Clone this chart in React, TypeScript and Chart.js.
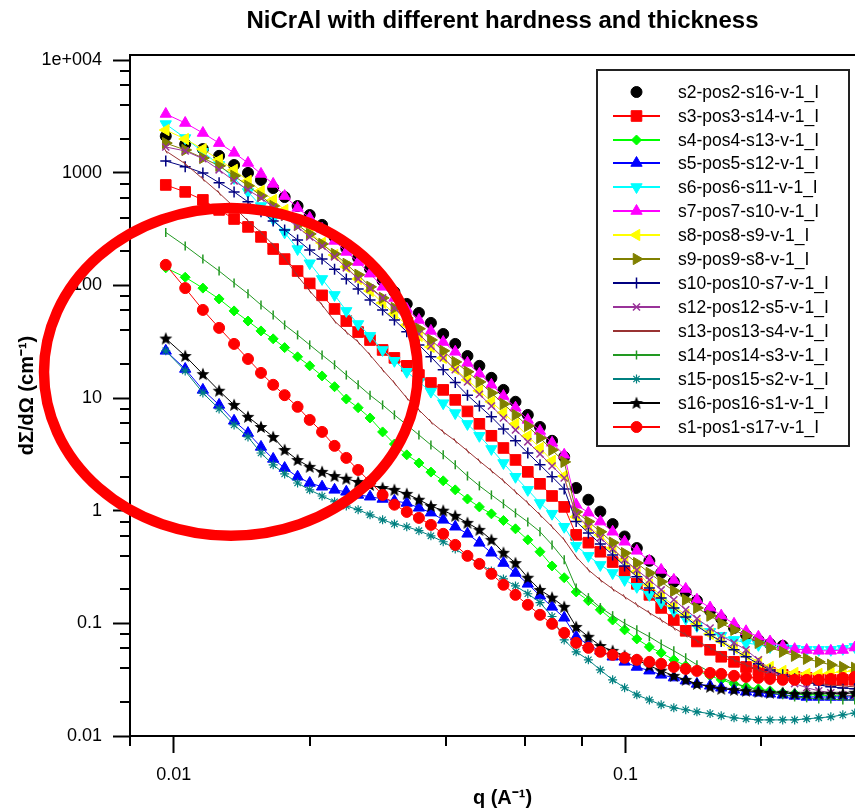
import React, { useEffect, useRef } from 'react';
import { Chart, registerables, PointElement } from 'chart.js';

Chart.register(...registerables);

const chartTitle = 'NiCrAl with different hardness and thickness';
const xTitle = 'q (A\u207B\u00B9)';
const yTitle = 'd\u03A3/d\u03A9 (cm\u207B\u00B9)';

const xMajorTicks = [0.01, 0.1];
const xMajorLabels = ['0.01', '0.1'];
const xMinorTicks = [0.008, 0.02, 0.04, 0.06, 0.08, 0.2];
const yMajorTicks = [0.01, 0.1, 1, 10, 100, 1000, 10000];
const yMajorLabels = ['0.01', '0.1', '1', '10', '100', '1000', '1e+004'];
const yMinorTicks = [0.02, 0.04, 0.06, 0.08, 0.2, 0.4, 0.6, 0.8, 2, 4, 6, 8, 20, 40, 60, 80, 200, 400, 600, 800, 2000, 4000, 6000, 8000];

const xRange = [0.008, 0.357];
const yRange = [0.01, 11077];

// highlighted region (red ellipse), in data units
const highlight = { qMin: 0.00516, qMax: 0.0347, iMin: 0.598, iMax: 486 };

const q = [0.0096, 0.0106, 0.0116, 0.0126, 0.0136, 0.0146, 0.0156, 0.0166, 0.0176, 0.0188, 0.02, 0.0213, 0.0227, 0.0241, 0.0256, 0.0272, 0.029, 0.0308, 0.0328, 0.0349, 0.0371, 0.0395, 0.042, 0.0447, 0.0475, 0.0505, 0.0537, 0.0571, 0.0608, 0.0647, 0.0688, 0.0732, 0.0778, 0.0828, 0.088, 0.0937, 0.0996, 0.106, 0.113, 0.12, 0.128, 0.136, 0.144, 0.154, 0.163, 0.174, 0.185, 0.197, 0.209, 0.223, 0.237, 0.252, 0.268, 0.285, 0.303, 0.322, 0.343];

const s2 = [2110, 1790, 1620, 1410, 1170, 995, 862, 730, 608, 506, 421, 344, 268, 213, 175, 140, 110, 87.3, 68.4, 56.9, 46.4, 37.0, 30.2, 23.6, 19.3, 15.1, 11.8, 9.26, 7.08, 5.53, 4.17, 3.0, 1.59, 1.25, 0.98, 0.76, 0.59, 0.466, 0.359, 0.28, 0.234, 0.19, 0.159, 0.129, 0.11, 0.091, 0.079, 0.0713, 0.0656, 0.0632];
const s3 = [778, 675, 573, 467, 388, 330, 269, 210, 171, 134, 104, 81.5, 61.7, 48.2, 38.5, 32.7, 26.7, 22.7, 19.3, 16.0, 13.6, 11.8, 9.62, 7.6, 5.9, 4.62, 3.6, 2.82, 2.21, 1.73, 1.35, 1.08, 0.61, 0.52, 0.432, 0.35, 0.287, 0.224, 0.179, 0.137, 0.107, 0.0858, 0.069, 0.0582, 0.0505, 0.0455, 0.041, 0.0386, 0.0363, 0.0349, 0.0335, 0.0328, 0.0321, 0.0315, 0.0315, 0.0315, 0.0315];
const s4 = [143, 118, 94.5, 75.7, 59.3, 48.2, 39.4, 33.5, 28.0, 23.2, 19.3, 15.7, 12.6, 9.8, 8.2, 6.65, 5.0, 3.9, 3.13, 2.65, 2.2, 1.84, 1.53, 1.27, 1.08, 0.937, 0.818, 0.69, 0.551, 0.432, 0.323, 0.254, 0.19, 0.159, 0.132, 0.107, 0.0875, 0.0727, 0.0618, 0.0547, 0.0474, 0.042, 0.038, 0.0342, 0.0315, 0.029, 0.0273, 0.0262, 0.0252, 0.0242, 0.0237, 0.0232, 0.0232, 0.0227, 0.0227, 0.0227, 0.0232];
const s5 = [26.2, 18.1, 11.8, 8.68, 6.27, 4.88, 3.68, 2.88, 2.39, 2.0, 1.76, 1.63, 1.53, 1.47, 1.38, 1.33, 1.27, 1.22, 1.17, 1.06, 0.96, 0.829, 0.72, 0.623, 0.518, 0.423, 0.343, 0.28, 0.224, 0.176, 0.14, 0.112, 0.076, 0.0644, 0.057, 0.0505, 0.0455, 0.041, 0.038, 0.0349, 0.033, 0.031, 0.029, 0.0279, 0.0268, 0.0257, 0.0247, 0.0242, 0.0237, 0.0232, 0.0227, 0.0222, 0.0222, 0.0222, 0.0222, 0.0222, 0.0222];
const s6 = [2700, 2030, 1530, 1170, 897, 675, 506, 388, 295, 210, 157, 114, 82.2, 59.3, 45.4, 35.6, 26.7, 21.4, 17.1, 13.9, 11.4, 9.0, 7.35, 5.89, 4.62, 3.53, 2.65, 2.0, 1.53, 1.17, 0.94, 0.72, 0.487, 0.397, 0.33, 0.28, 0.243, 0.211, 0.179, 0.153, 0.129, 0.11, 0.095, 0.0842, 0.0776, 0.0713, 0.0671, 0.0644, 0.0618, 0.0606, 0.0594, 0.0582, 0.0582, 0.0582, 0.0594, 0.0618, 0.0644];
const s7 = [3320, 2760, 2250, 1830, 1500, 1220, 975, 795, 620, 487, 397, 317, 248, 198, 161, 127, 97, 77.3, 61.7, 49.3, 39.4, 31.4, 25.7, 20.5, 16.4, 13.1, 10.4, 8.2, 6.39, 5.1, 4.0, 3.13, 1.13, 0.96, 0.8, 0.65, 0.53, 0.44, 0.36, 0.298, 0.243, 0.202, 0.162, 0.138, 0.117, 0.099, 0.085, 0.076, 0.069, 0.063, 0.059, 0.058, 0.057, 0.057, 0.058, 0.061, 0.063];
const s8 = [2390, 1990, 1620, 1300, 1060, 845, 690, 573, 467, 373, 298, 238, 186, 146, 114, 89.2, 69.8, 55.7, 44.5, 35.6, 28.4, 22.7, 18.1, 14.5, 11.6, 9.26, 7.4, 5.9, 4.6, 3.6, 2.77, 2.03, 0.88, 0.72, 0.61, 0.466, 0.366, 0.287, 0.22, 0.176, 0.143, 0.119, 0.099, 0.0806, 0.07, 0.0606, 0.0525, 0.0455, 0.041, 0.0378, 0.0363, 0.0356, 0.0356, 0.0363, 0.037, 0.0378, 0.0386];
const s9 = [1830, 1590, 1350, 1150, 937, 764, 622, 506, 421, 344, 286, 233, 190, 155, 124, 97, 77.3, 62.9, 51.3, 41.2, 32.8, 26.2, 20.9, 17.1, 13.9, 11.1, 8.85, 7.08, 5.65, 4.42, 3.46, 2.71, 0.975, 0.8, 0.65, 0.52, 0.42, 0.343, 0.28, 0.234, 0.194, 0.162, 0.137, 0.117, 0.1, 0.0875, 0.0776, 0.0671, 0.0606, 0.0559, 0.0515, 0.0484, 0.0455, 0.0428, 0.041, 0.0403, 0.0394];
const s10 = [1270, 1130, 995, 815, 675, 551, 449, 373, 310, 253, 206, 171, 139, 114, 92.8, 74.2, 60.5, 49.3, 38.8, 29.6, 23.2, 17.8, 13.7, 10.6, 8.5, 6.8, 5.3, 4.17, 3.25, 2.55, 2.0, 1.56, 0.8, 0.635, 0.507, 0.405, 0.323, 0.259, 0.206, 0.168, 0.137, 0.114, 0.095, 0.079, 0.069, 0.0582, 0.0505, 0.0437, 0.0386, 0.0349, 0.0322, 0.0303, 0.0284, 0.0273, 0.0267, 0.0262, 0.0257];
const s12 = [1690, 1560, 1330, 1060, 845, 703, 596, 496, 405, 330, 269, 223, 179, 143, 114, 94.5, 77.3, 62.9, 47.4, 37.0, 29.0, 22.7, 17.8, 13.9, 10.8, 8.5, 6.65, 5.21, 4.08, 3.19, 2.49, 1.95, 0.918, 0.72, 0.574, 0.458, 0.366, 0.298, 0.243, 0.198, 0.162, 0.132, 0.11, 0.091, 0.0776, 0.0671, 0.0582, 0.0474, 0.0386, 0.033, 0.0292, 0.0268, 0.0252, 0.0242, 0.0232, 0.0227, 0.0222];
const s13 = [1560, 1200, 880, 661, 496, 373, 295, 228, 175, 121, 89.2, 67, 48.2, 38.5, 31.4, 24.1, 17.8, 13.6, 10.0, 7.84, 6.14, 5.0, 4.17, 3.39, 2.76, 2.26, 1.84, 1.47, 1.17, 0.918, 0.72, 0.551, 0.389, 0.298, 0.243, 0.202, 0.172, 0.146, 0.124, 0.107, 0.091, 0.079, 0.07, 0.0606, 0.0536, 0.0474, 0.0428, 0.0386, 0.0356, 0.0335, 0.0315, 0.0303, 0.0292, 0.0284, 0.0278, 0.0273, 0.0267];
const s14 = [295, 224, 171, 134, 105, 84.3, 67, 54.6, 44.5, 36.3, 29.6, 24.1, 19.7, 16.0, 13.1, 10.6, 8.68, 7.08, 5.77, 4.7, 3.83, 3.13, 2.55, 2.03, 1.66, 1.38, 1.15, 0.955, 0.795, 0.65, 0.497, 0.366, 0.206, 0.169, 0.138, 0.117, 0.1, 0.0875, 0.076, 0.0656, 0.057, 0.0495, 0.0428, 0.037, 0.033, 0.0296, 0.0273, 0.0257, 0.0242, 0.0232, 0.0222, 0.0218, 0.0213, 0.0213, 0.0209, 0.0209, 0.0209];
const s15 = [26.2, 17.4, 11.1, 8.0, 5.77, 4.51, 3.25, 2.55, 2.12, 1.76, 1.53, 1.35, 1.2, 1.1, 1.02, 0.918, 0.829, 0.763, 0.72, 0.664, 0.598, 0.53, 0.458, 0.389, 0.337, 0.292, 0.248, 0.215, 0.183, 0.153, 0.115, 0.0713, 0.0559, 0.0474, 0.0386, 0.0315, 0.0268, 0.0232, 0.0209, 0.0189, 0.0178, 0.0171, 0.0164, 0.0158, 0.0151, 0.0145, 0.0142, 0.0139, 0.0139, 0.0139, 0.0139, 0.0142, 0.0145, 0.0148, 0.0154, 0.016, 0.0167];
const s16 = [33.7, 23.6, 16.3, 11.6, 8.68, 6.8, 5.53, 4.51, 3.46, 2.82, 2.45, 2.21, 2.03, 1.92, 1.8, 1.69, 1.59, 1.53, 1.41, 1.25, 1.1, 1.0, 0.9, 0.78, 0.676, 0.551, 0.423, 0.343, 0.254, 0.198, 0.169, 0.14, 0.093, 0.076, 0.063, 0.057, 0.0515, 0.0474, 0.042, 0.038, 0.0342, 0.0315, 0.029, 0.0273, 0.0262, 0.0257, 0.0252, 0.0247, 0.0242, 0.0242, 0.0237, 0.0237, 0.0237, 0.0237, 0.0237, 0.0242, 0.0242];
const s1 = [152, 94.5, 60.5, 41.9, 30.2, 22.2, 16.7, 13.1, 10.6, 8.35, 6.39, 5.0, 3.76, 2.94, 2.3, 1.8, 1.38, 1.13, 0.975, 0.863, 0.748, 0.623, 0.497, 0.397, 0.337, 0.275, 0.22, 0.179, 0.146, 0.119, 0.099, 0.0823, 0.0671, 0.0606, 0.0559, 0.0525, 0.0495, 0.0474, 0.0455, 0.0437, 0.041, 0.0394, 0.0378, 0.0363, 0.0356, 0.0342, 0.0335, 0.0328, 0.0321, 0.0315, 0.0315, 0.0315, 0.0315, 0.0321, 0.0328, 0.0335, 0.0342];

const labels = ['s2-pos2-s16-v-1_I', 's3-pos3-s14-v-1_I', 's4-pos4-s13-v-1_I', 's5-pos5-s12-v-1_I', 's6-pos6-s11-v-1_I', 's7-pos7-s10-v-1_I', 's8-pos8-s9-v-1_I', 's9-pos9-s8-v-1_I', 's10-pos10-s7-v-1_I', 's12-pos12-s5-v-1_I', 's13-pos13-s4-v-1_I', 's14-pos14-s3-v-1_I', 's15-pos15-s2-v-1_I', 's16-pos16-s1-v-1_I', 's1-pos1-s17-v-1_I'];
const values = [s2, s3, s4, s5, s6, s7, s8, s9, s10, s12, s13, s14, s15, s16, s1];

// styles, in legend order
const styles: any[] = [
  { color: '#000000', style: 'circle', radius: 5.5, line: false },
  { color: '#ff0000', style: 'rect', radius: 7.5, line: true },
  { color: '#00ff00', style: 'rectRot', radius: 5, line: true },
  { color: '#0000ff', style: 'triangle', radius: 6.5, line: true },
  { color: '#00ffff', style: 'triangle', rotation: 180, radius: 6.5, line: true },
  { color: '#ff00ff', style: 'triangle', radius: 6.5, line: true },
  { color: '#ffff00', style: 'triangle', rotation: 270, radius: 6.5, line: true },
  { color: '#808000', style: 'triangle', rotation: 90, radius: 6.5, line: true },
  { color: '#000080', style: 'cross', radius: 5.5, line: true, bw: 1.5 },
  { color: '#993399', style: 'crossRot', radius: 5, line: true, bw: 1.5 },
  { color: '#993333', style: 'line', rotation: 60, radius: 3, line: true, bw: 1, noLegendMarker: true },
  { color: '#229922', style: 'line', rotation: 90, radius: 4.5, line: true, bw: 1.5 },
  { color: '#008080', style: 'star', radius: 4.5, line: true, bw: 1.2 },
  { color: '#000000', style: 'filledStar', radius: 6, line: true },
  { color: '#ff0000', style: 'circle', radius: 5.5, line: true },
];

const FONT = "'Liberation Sans', Arial, sans-serif";

function makeStar(color: string) {
  const c = document.createElement('canvas');
  c.width = 14;
  c.height = 14;
  const g = c.getContext('2d') as CanvasRenderingContext2D;
  g.fillStyle = color;
  g.beginPath();
  for (let k = 0; k < 10; k++) {
    const r = k % 2 === 0 ? 6.8 : 3.0;
    const a = -Math.PI / 2 + (k * Math.PI) / 5;
    const px = 7 + r * Math.cos(a);
    const py = 7.4 + r * Math.sin(a);
    if (k === 0) g.moveTo(px, py);
    else g.lineTo(px, py);
  }
  g.closePath();
  g.fill();
  return c;
}

export default function App() {
  const ref = useRef<HTMLCanvasElement | null>(null);

  useEffect(() => {
    if (!ref.current) return;
    const star = makeStar('#000000');
    const pointStyleOf = (s: any) => (s.style === 'filledStar' ? star : s.style);

    const decor = {
      id: 'decor',
      afterDraw(chart: any) {
        const { ctx, chartArea: a, scales } = chart;
        const xs = scales.x;
        const ys = scales.y;
        ctx.save();
        // top frame
        ctx.strokeStyle = '#000';
        ctx.lineWidth = 2;
        ctx.beginPath();
        ctx.moveTo(a.left - 1, a.top);
        ctx.lineTo(a.right, a.top);
        ctx.stroke();
        // minor ticks
        ctx.beginPath();
        for (const v of yMinorTicks) {
          const py = Math.round(ys.getPixelForValue(v));
          ctx.moveTo(a.left - 10, py);
          ctx.lineTo(a.left, py);
        }
        for (const v of xMinorTicks) {
          const px = Math.round(xs.getPixelForValue(v));
          ctx.moveTo(px, a.bottom);
          ctx.lineTo(px, a.bottom + 10);
        }
        ctx.stroke();

        // legend box
        const bx = 597, by = 70, bw = 252, bh = 376;
        ctx.fillStyle = '#ffffff';
        ctx.fillRect(bx, by, bw, bh);
        ctx.lineWidth = 2;
        ctx.strokeStyle = '#222';
        ctx.strokeRect(bx, by, bw, bh);
        ctx.font = `17.5px ${FONT}`;
        ctx.textBaseline = 'middle';
        ctx.textAlign = 'left';
        labels.forEach((lab, i) => {
          const s = styles[i];
          const yy = Math.round(91.7 + 23.93 * i);
          if (s.line) {
            ctx.strokeStyle = s.color;
            ctx.lineWidth = 2;
            ctx.beginPath();
            ctx.moveTo(613, yy);
            ctx.lineTo(660, yy);
            ctx.stroke();
          }
          if (!s.noLegendMarker) {
            const pe: any = new (PointElement as any)({
              x: 636.5,
              y: yy,
              options: {
                pointStyle: pointStyleOf(s),
                rotation: s.rotation || 0,
                radius: s.radius,
                borderWidth: s.bw || 1,
                borderColor: s.color,
                backgroundColor: s.color,
              },
            });
            pe.draw(ctx);
          }
          ctx.fillStyle = '#000';
          ctx.fillText(lab, 678, yy + 1);
        });

        // highlight ellipse
        const x1 = xs.getPixelForValue(highlight.qMin);
        const x2 = xs.getPixelForValue(highlight.qMax);
        const y1 = ys.getPixelForValue(highlight.iMax);
        const y2 = ys.getPixelForValue(highlight.iMin);
        ctx.beginPath();
        ctx.ellipse((x1 + x2) / 2, (y1 + y2) / 2, (x2 - x1) / 2, (y2 - y1) / 2, 0, 0, Math.PI * 2);
        ctx.lineWidth = 10.5;
        ctx.strokeStyle = '#ff0000';
        ctx.stroke();
        ctx.restore();
      },
    };

    const datasets = values.map((vals, i) => {
      const s = styles[i];
      return {
        label: labels[i],
        data: vals.map((v, j) => ({ x: q[j], y: v })),
        borderColor: s.color,
        backgroundColor: s.color,
        borderWidth: 1,
        showLine: s.line,
        pointStyle: pointStyleOf(s),
        pointRadius: s.radius,
        pointRotation: s.rotation || 0,
        pointBorderWidth: s.bw || 1,
        pointBorderColor: s.color,
        pointBackgroundColor: s.color,
        tension: 0,
        order: values.length - 1 - i,
      };
    });

    const zeroPad = (s: any) => {
      s.paddingLeft = 0;
      s.paddingRight = 0;
      s.paddingTop = 0;
      s.paddingBottom = 0;
    };

    const chart = new Chart(ref.current, {
      type: 'line',
      data: { datasets } as any,
      options: {
        animation: false,
        responsive: false,
        devicePixelRatio: 1,
        events: [],
        layout: { padding: 0, autoPadding: false },
        plugins: {
          legend: { display: false },
          tooltip: { enabled: false },
          title: {
            display: true,
            text: chartTitle,
            fullSize: false,
            color: '#000',
            font: { family: FONT, size: 24, weight: 'bold' },
            padding: { top: 7, bottom: 19.2 },
          },
        },
        scales: {
          x: {
            type: 'logarithmic',
            min: xRange[0],
            max: xRange[1],
            bounds: 'data',
            afterFit: (s: any) => {
              s.height = 74;
              zeroPad(s);
            },
            afterBuildTicks: (s: any) => {
              s.ticks = xMajorTicks.map((v) => ({ value: v }));
            },
            ticks: {
              autoSkip: false,
              maxRotation: 0,
              minRotation: 0,
              padding: 11,
              color: '#000',
              font: { family: FONT, size: 18 },
              callback: (v: any) => {
                const k = xMajorTicks.indexOf(Number(v));
                return k >= 0 ? xMajorLabels[k] : '';
              },
            },
            grid: { drawOnChartArea: false, drawTicks: true, tickLength: 17, tickColor: '#000', tickWidth: 2 },
            border: { display: true, color: '#000', width: 2 },
            title: {
              display: true,
              text: xTitle,
              color: '#000',
              font: { family: FONT, size: 20, weight: 'bold' },
              padding: { top: 0, bottom: 0 },
            },
          },
          y: {
            type: 'logarithmic',
            min: yRange[0],
            max: yRange[1],
            bounds: 'data',
            afterFit: (s: any) => {
              s.width = 130;
              zeroPad(s);
            },
            afterBuildTicks: (s: any) => {
              s.ticks = yMajorTicks.map((v) => ({ value: v }));
            },
            ticks: {
              autoSkip: false,
              padding: 11,
              color: '#000',
              font: { family: FONT, size: 18 },
              callback: (v: any) => {
                const k = yMajorTicks.indexOf(Number(v));
                return k >= 0 ? yMajorLabels[k] : '';
              },
            },
            grid: { drawOnChartArea: false, drawTicks: true, tickLength: 17, tickColor: '#000', tickWidth: 2 },
            border: { display: true, color: '#000', width: 2 },
            title: {
              display: true,
              text: yTitle,
              color: '#000',
              font: { family: FONT, size: 20, weight: 'bold' },
              padding: { top: 15, bottom: 0 },
            },
          },
        },
      } as any,
      plugins: [decor],
    });
    return () => chart.destroy();
  }, []);

  return (
    <div style={{ position: 'absolute', left: 0, top: 0, width: 855, height: 810, overflow: 'hidden', background: '#ffffff' }}>
      <canvas ref={ref} width={875} height={810} style={{ display: 'block' }} />
    </div>
  );
}
